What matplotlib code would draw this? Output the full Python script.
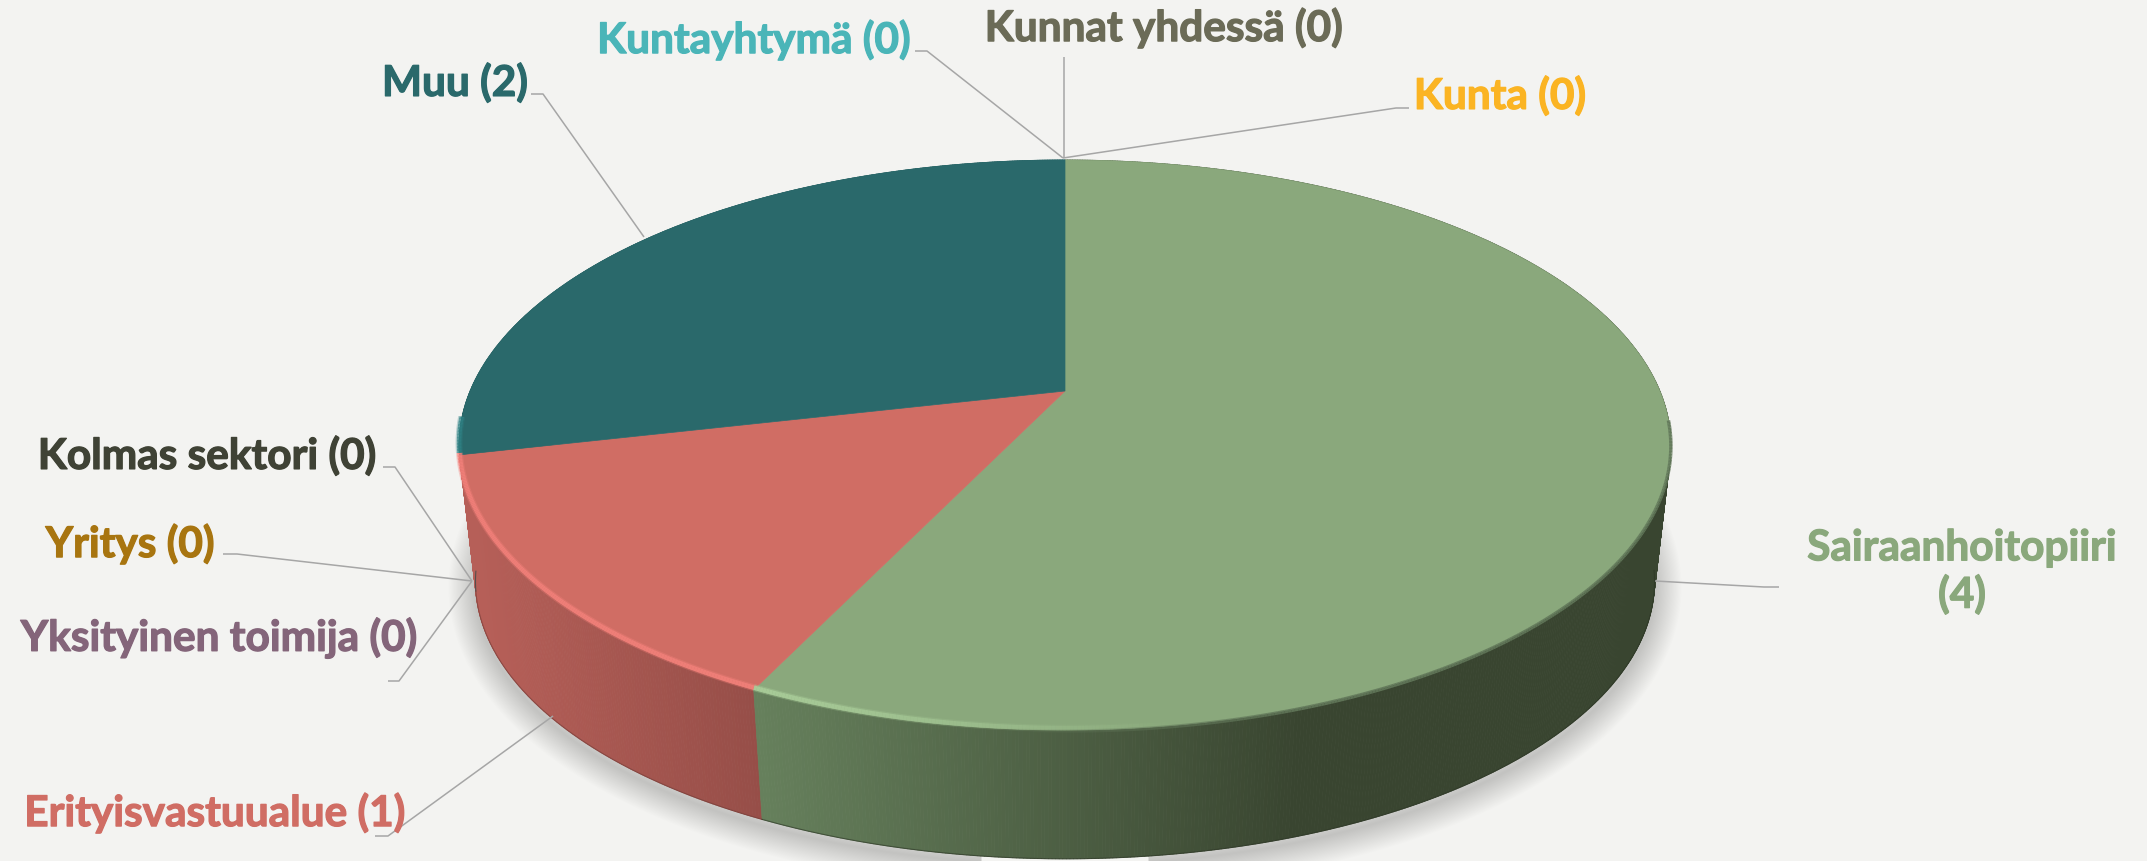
import numpy as np
import matplotlib
matplotlib.use("Agg")
import matplotlib.pyplot as plt
import matplotlib.patheffects as pe
from matplotlib.collections import PolyCollection, LineCollection
from matplotlib.colors import to_rgb
from matplotlib.patches import Polygon

categories = ["Sairaanhoitopiiri", "Erityisvastuualue", "Yksityinen toimija", "Yritys",
              "Kolmas sektori", "Muu", "Kuntayhtymä", "Kunnat yhdessä", "Kunta"]
values = [4, 1, 0, 0, 0, 2, 0, 0, 0]
label_colors = ["#8AA87C", "#D06D64", "#84657A", "#A87510", "#3F4235",
                "#2A696B", "#4AB5B8", "#6B6B57", "#FBB423"]
top_colors = {"Sairaanhoitopiiri": "#8AA87C", "Erityisvastuualue": "#D06D64", "Muu": "#2A696B"}
# side colour at left x / right x
side_grad = {"Sairaanhoitopiiri": ((757, "#66805C"), (1300, "#394530")),
             "Erityisvastuualue": ((472, "#B65F58"), (757, "#964E48")),
             "Muu": ((459, "#235A5C"), (1065, "#235A5C"))}
# rim highlight colour, alpha at left x / right x
rim = {"Sairaanhoitopiiri": ("#ABCF9B", (757, 1.0), (1180, 0.0)),
       "Erityisvastuualue": ("#F2807A", (480, 1.0), (757, 1.0)),
       "Muu": ("#2F8285", (459, 0.9), (462, 0.9))}

# label centre and leader lines in figure pixels
label_pos = {"Kunta": (1500, 97), "Kunnat yhdessä": (1164, 29), "Kuntayhtymä": (754, 41),
             "Muu": (455, 84), "Kolmas sektori": (207, 457), "Yritys": (130, 545),
             "Yksityinen toimija": (219, 639), "Erityisvastuualue": (215, 814),
             "Sairaanhoitopiiri": (1962, 573)}
leaders = [[(1409, 109), (1396, 109), (1063, 159)], [(1064, 58), (1064, 159)],
           [(915, 52), (927, 52), (1063, 159)], [(531, 95), (543, 95), (644, 238)],
           [(383, 468), (395, 468), (472, 582)], [(223, 555), (237, 555), (472, 582)],
           [(388, 682), (399, 682), (472, 582)], [(375, 837), (388, 837), (553, 717)],
           [(1779, 588), (1764, 588), (1655, 582)]]

CX, CY, A, B, K = 1065.0, 392.0, 594.9, 274.8, 0.1895
VPY, S = 5500.0, 0.973
BG = "#F3F3F1"


def project(theta):
    u, v = np.sin(theta), np.cos(theta)
    w = 1 + K * v
    return CX + A * u / w, CY - B * v / w


def down(x, y):
    return CX + S * (x - CX), VPY + S * (y - VPY)


def lerp(c0, c1, t):
    return tuple((1 - t) * np.array(to_rgb(c0)) + t * np.array(to_rgb(c1)))


fig = plt.figure(figsize=(21.47, 8.62), dpi=100, facecolor=BG)
ax = fig.add_axes([0, 0, 1, 1])
ax.set_xlim(0, 2147)
ax.set_ylim(862, 0)
ax.axis("off")

total = sum(values)
full = np.linspace(0, 2 * np.pi, 721)
bx, by = down(*project(full))

# soft shadow under the disc
for lw in np.linspace(54, 2, 24):
    ax.add_patch(Polygon(np.c_[bx, by + 6], closed=True, fc="none",
                         ec=(0, 0, 0, 0.0068), lw=lw * 0.72, joinstyle="round", zorder=1))

# slices
start = 0.0
slices = []
for c, val in zip(categories, values):
    span = val / total * 2 * np.pi
    if val > 0:
        slices.append((c, start, start + span))
    start += span

# back-most slice first, so the front sides overlap it
for c, a0, a1 in reversed(slices):
    th = np.linspace(a0, a1, max(int((a1 - a0) * 200), 8))
    x, y = project(th)
    xb, yb = down(x, y)
    (xl, cl), (xr, cr) = side_grad[c]
    quads, cols = [], []
    for i in range(len(th) - 1):
        quads.append([(x[i], y[i]), (x[i + 1], y[i + 1]), (xb[i + 1], yb[i + 1]), (xb[i], yb[i])])
        t = np.clip((0.5 * (x[i] + x[i + 1]) - xl) / (xr - xl), 0, 1)
        cols.append(lerp(cl, cr, t))
    ax.add_collection(PolyCollection(quads, facecolors=cols, edgecolors=cols, linewidths=0.6, zorder=2))
    # thin darker foot of the side, only where it faces the viewer
    front = np.cos(th) < -0.15
    ax.plot(xb[front], yb[front], color=lerp(cr, "#000000", 0.25), lw=0.8, alpha=0.6, zorder=2.5)

for c, a0, a1 in slices:
    th = np.linspace(a0, a1, max(int((a1 - a0) * 200), 8))
    x, y = project(th)
    pts = np.r_[[(CX, CY)], np.c_[x, y]]
    ax.add_patch(Polygon(pts, closed=True, fc=top_colors[c], ec=top_colors[c], lw=0.5, zorder=3))

# rim bevel highlight
for c, a0, a1 in slices:
    th = np.linspace(a0, a1, max(int((a1 - a0) * 200), 8))
    x, y = project(th)
    col, (xa, aa), (xb_, ab) = rim[c]
    segs, rgba, soft, soft_c = [], [], [], []
    for i in range(len(th) - 1):
        v = np.cos(th[i])
        if v > -0.10:
            continue
        mx = 0.5 * (x[i] + x[i + 1])
        al = aa + (ab - aa) * np.clip((mx - xa) / (xb_ - xa), 0, 1)
        segs.append([(x[i], y[i] - 2), (x[i + 1], y[i + 1] - 2)])
        rgba.append((*to_rgb(col), al))
        if c == "Sairaanhoitopiiri":
            soft.append([(x[i], y[i] + 1), (x[i + 1], y[i + 1] + 1)])
            soft_c.append((*to_rgb("#62785A"), min(1.0, (mx - 1000) / 300) * 0.9 if mx > 1000 else 0.0))
    for lw, f in ((7.0, 0.35), (4.5, 0.85)):
        ax.add_collection(LineCollection(segs, colors=[(*q[:3], q[3] * f) for q in rgba],
                                         linewidths=lw * 0.72, capstyle="butt", zorder=4))
    if soft:
        ax.add_collection(LineCollection(soft, colors=soft_c, linewidths=3.5 * 0.72,
                                         capstyle="butt", zorder=4))

# leader lines
for line in leaders:
    xs, ys = zip(*line)
    ax.plot(xs, ys, color="#A6A6A6", lw=1.1, solid_capstyle="butt", zorder=5)

# labels
for c, val, col in zip(categories, values, label_colors):
    x, y = label_pos[c]
    txt = f"{c}\n({val})" if c == "Sairaanhoitopiiri" else f"{c} ({val})"
    ax.text(x, y, txt, color=col, ha="center", va="center", family="Lato", weight="bold",
            fontsize=30.5, linespacing=1.23, zorder=6,
            path_effects=[pe.withStroke(linewidth=0.9, foreground=col)])

fig.savefig("out.png", dpi=100, facecolor=BG)
